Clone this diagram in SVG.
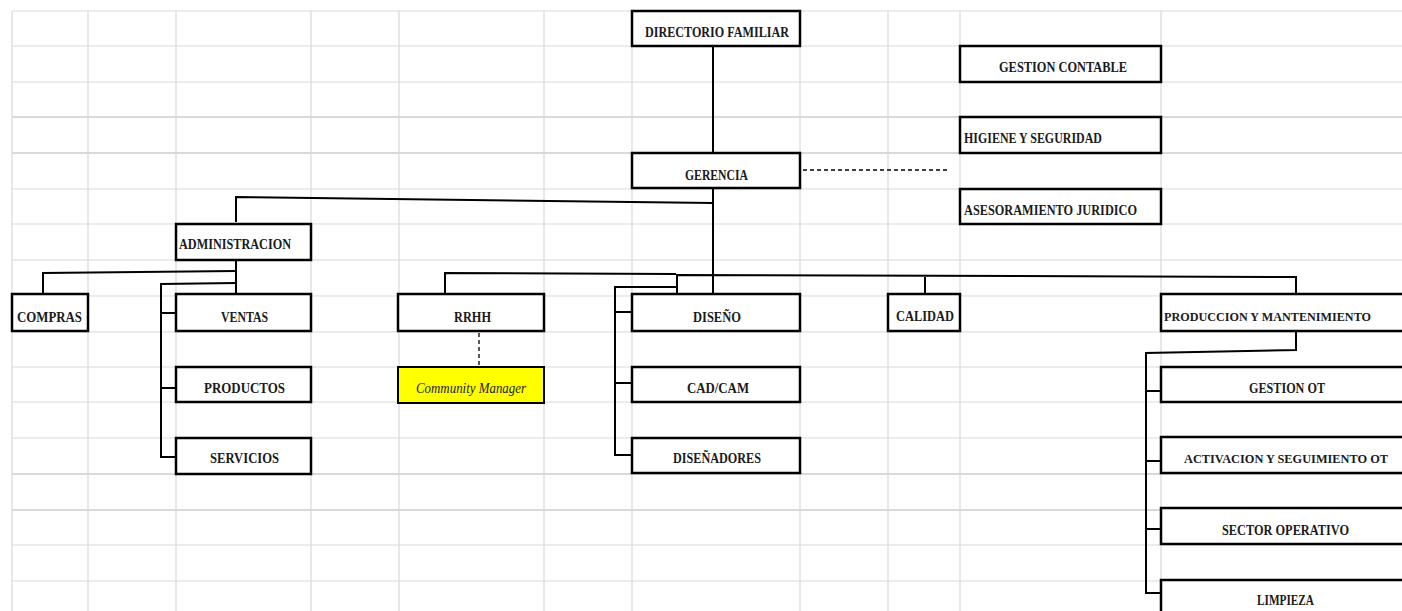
<svg xmlns="http://www.w3.org/2000/svg" width="1402" height="611" viewBox="0 0 1402 611">
<style>
.g{stroke:#d9d9d9;stroke-width:1.2;fill:none}
.gt{stroke:#d9d9d9;stroke-width:2;fill:none}
.box{fill:#fff;stroke:#000;stroke-width:2.5}
.yel{fill:#ffff00;stroke:#000;stroke-width:2}
.c{stroke:#000;stroke-width:2;fill:none}
.d{stroke:#000;stroke-width:1.3;fill:none;stroke-dasharray:4 3}
.t{font-family:"Liberation Serif","Times New Roman",serif;font-weight:bold;font-size:15.5px;fill:#1a1a1a}
.ts{font-size:13px}
.it{font-family:"Liberation Serif","Times New Roman",serif;font-style:italic;font-size:15.5px;fill:#1a1a1a}
</style>
<rect width="1402" height="611" fill="#fff"/>
<g id="grid">
<path class="g" d="M12 11H1402M12 46H1402M12 82H1402M12 189H1402M12 224H1402M12 260H1402M12 296H1402M12 332H1402M12 367H1402M12 402H1402M12 438H1402M12 545H1402M12 581H1402"/>
<path class="gt" d="M12 117H1402M12 153H1402M12 474H1402M12 510H1402"/>
<path class="g" d="M12 11V611M88 11V611M176 11V611M311 11V611M399 11V611M544 11V611M632 11V611M800 11V611M888 11V611M960 11V611M1161 11V611"/>
</g>
<g id="connectors">
<path class="c" d="M713 46V153"/>
<path class="d" d="M803 170H950"/>
<path class="c" d="M713 189V294"/>
<path class="c" d="M236 222V197L713 203"/>
<path class="c" d="M236 260V294"/>
<path class="c" d="M43 294V273L236 271"/>
<path class="c" d="M236 283L161 284V457H176M161 313H176M161 388H176"/>
<path class="c" d="M445 294V273L676 274"/>
<path class="c" d="M677 294V275L1296 277V294"/>
<path class="c" d="M677 287H615V455H632M615 312H632M615 383H632"/>
<path class="c" d="M925 294V277"/>
<path class="d" d="M479 333V365"/>
<path class="c" d="M1296 331V350L1146 353V593H1161M1146 391H1161M1146 461H1161M1146 529H1161"/>
</g>
<g id="directorio"><rect class="box" x="632" y="11" width="168" height="35"/><text class="t" x="645" y="37" textLength="144" lengthAdjust="spacingAndGlyphs">DIRECTORIO FAMILIAR</text></g>
<g id="gerencia"><rect class="box" x="632" y="153" width="168" height="35"/><text class="t" x="685" y="180" textLength="63" lengthAdjust="spacingAndGlyphs">GERENCIA</text></g>
<g id="gestion-contable"><rect class="box" x="960" y="46" width="201" height="36"/><text class="t" x="999" y="72" textLength="128" lengthAdjust="spacingAndGlyphs">GESTION CONTABLE</text></g>
<g id="higiene"><rect class="box" x="960" y="117" width="201" height="36"/><text class="t" x="964" y="143" textLength="138" lengthAdjust="spacingAndGlyphs">HIGIENE Y SEGURIDAD</text></g>
<g id="asesoramiento"><rect class="box" x="960" y="189" width="201" height="35"/><text class="t" x="964" y="215" textLength="173" lengthAdjust="spacingAndGlyphs">ASESORAMIENTO JURIDICO</text></g>
<g id="administracion"><rect class="box" x="176" y="224" width="135" height="36"/><text class="t" x="179" y="249" textLength="112" lengthAdjust="spacingAndGlyphs">ADMINISTRACION</text></g>
<g id="compras"><rect class="box" x="12" y="294" width="76" height="37"/><text class="t" x="17" y="322" textLength="65" lengthAdjust="spacingAndGlyphs">COMPRAS</text></g>
<g id="ventas"><rect class="box" x="176" y="294" width="135" height="37"/><text class="t" x="221" y="322" textLength="47" lengthAdjust="spacingAndGlyphs">VENTAS</text></g>
<g id="productos"><rect class="box" x="176" y="367" width="135" height="35"/><text class="t" x="204" y="393" textLength="81" lengthAdjust="spacingAndGlyphs">PRODUCTOS</text></g>
<g id="servicios"><rect class="box" x="176" y="438" width="135" height="36"/><text class="t" x="210" y="463" textLength="69" lengthAdjust="spacingAndGlyphs">SERVICIOS</text></g>
<g id="rrhh"><rect class="box" x="398" y="294" width="146" height="37"/><text class="t" x="454" y="322" textLength="37" lengthAdjust="spacingAndGlyphs">RRHH</text></g>
<g id="community"><rect class="yel" x="398" y="367" width="146" height="36"/><text class="it" x="416" y="393" textLength="110" lengthAdjust="spacingAndGlyphs">Community Manager</text></g>
<g id="diseno"><rect class="box" x="632" y="294" width="168" height="37"/><text class="t" x="693" y="322" textLength="48" lengthAdjust="spacingAndGlyphs">DISEÑO</text></g>
<g id="cadcam"><rect class="box" x="632" y="367" width="168" height="35"/><text class="t" x="687" y="393" textLength="62" lengthAdjust="spacingAndGlyphs">CAD/CAM</text></g>
<g id="disenadores"><rect class="box" x="632" y="438" width="168" height="35"/><text class="t" x="673" y="463" textLength="88" lengthAdjust="spacingAndGlyphs">DISEÑADORES</text></g>
<g id="calidad"><rect class="box" x="888" y="294" width="72" height="37"/><text class="t" x="896" y="321" textLength="58" lengthAdjust="spacingAndGlyphs">CALIDAD</text></g>
<g id="produccion"><rect class="box" x="1161" y="294" width="243" height="37"/><text class="t ts" x="1164" y="321" textLength="207" lengthAdjust="spacingAndGlyphs">PRODUCCION Y MANTENIMIENTO</text></g>
<g id="gestion-ot"><rect class="box" x="1161" y="367" width="243" height="35"/><text class="t" x="1249" y="393" textLength="76" lengthAdjust="spacingAndGlyphs">GESTION OT</text></g>
<g id="activacion"><rect class="box" x="1161" y="437" width="243" height="36"/><text class="t ts" x="1184" y="463" textLength="204" lengthAdjust="spacingAndGlyphs">ACTIVACION Y SEGUIMIENTO OT</text></g>
<g id="sector"><rect class="box" x="1161" y="508" width="243" height="36"/><text class="t" x="1222" y="535" textLength="127" lengthAdjust="spacingAndGlyphs">SECTOR OPERATIVO</text></g>
<g id="limpieza"><rect class="box" x="1161" y="580" width="243" height="40"/><text class="t" x="1257" y="605" textLength="57" lengthAdjust="spacingAndGlyphs">LIMPIEZA</text></g>
</svg>
